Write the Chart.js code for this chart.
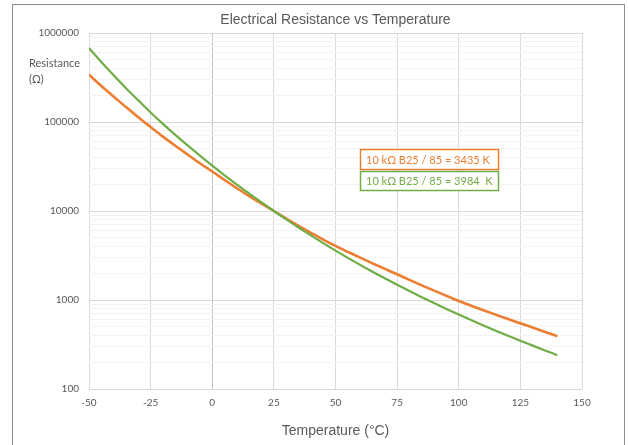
<!DOCTYPE html>
<html><head><meta charset="utf-8">
<script src="https://cdn.jsdelivr.net/npm/chart.js@4"></script>
<style>
html,body{margin:0;padding:0;background:#fff;overflow:hidden}
#wrap{position:relative;width:628px;height:445px}
#frame{position:absolute;left:12px;top:4px;width:611px;height:470px;border:1px solid #8c8c8c;pointer-events:none}
canvas{position:absolute;left:0;top:0}
</style></head><body>
<div id="wrap"><canvas id="c" width="628" height="445"></canvas><div id="frame"></div></div>
<script>
// ---- data ----
const chartTitle = 'Electrical Resistance vs Temperature';
const xTitle = 'Temperature (°C)';
const yTitle = ['Resistance', '(Ω)'];
const seriesLabels = ['10 kΩ B25 / 85 = 3435 K', '10 kΩ B25 / 85 = 3984  K'];
const temperatures = [-50,-45,-40,-35,-30,-25,-20,-15,-10,-5,0,5,10,15,20,25,30,35,40,45,50,55,60,65,70,75,80,85,90,95,100,105,110,115,120,125,130,135,140];
const r3435 = [339000,254000,193000,147000,113000,87900,68500,54100,43100,34400,27800,22300,18000,14700,12100,10000,8220,6820,5690,4770,4050,3480,2990,2580,2240,1945,1683,1462,1274,1112,975,863,767,684,611,547,490,438,391];
const r3984 = [678000,473000,335000,240000,175000,128000,95300,71600,54500,41800,32300,25200,19800,15700,12500,10000,8050,6530,5320,4360,3590,2975,2480,2080,1752,1483,1261,1076,923,794,686,595,518,452,396,348,307,271,240];
const xTicks = [-50,-25,0,25,50,75,100,125,150];
const yMajorTicks = [100,1000,10000,100000,1000000];
const seriesColors = ['#ED7D31', '#70AD47'];

const TEXT = '#595959';

const decor = {
  id: 'decor',
  afterDraw(chart) {
    const ctx = chart.ctx, ca = chart.chartArea;
    ctx.save();
    // title
    ctx.fillStyle = TEXT;
    ctx.font = '14px "Liberation Sans", Arial, sans-serif';
    ctx.textAlign = 'center';
    ctx.textBaseline = 'middle';
    ctx.fillText(chartTitle, (ca.left + ca.right) / 2, 20);
    // y title
    ctx.font = '11px Lato, sans-serif';
    ctx.textAlign = 'left';
    ctx.fillText(yTitle[0], 29, 63);
    ctx.fillText(yTitle[1], 29, 79);
    // series label boxes
    const boxes = [{y:149.5, h:20}, {y:171.5, h:19}];
    ctx.font = '11px Lato, sans-serif';
    chart.data.datasets.forEach((ds, i) => {
      const b = boxes[i];
      ctx.fillStyle = '#fff';
      ctx.fillRect(360.5, b.y, 138, b.h);
      ctx.strokeStyle = ds.borderColor;
      ctx.lineWidth = 1.5;
      ctx.strokeRect(360.5, b.y, 138, b.h);
      ctx.fillStyle = ds.borderColor;
      ctx.textBaseline = 'middle';
      ctx.fillText(ds.label, 366, b.y + b.h / 2 + 0.5);
    });
    ctx.restore();
  }
};

new Chart(document.getElementById('c'), {
  type: 'line',
  data: {
    datasets: [
      { label: seriesLabels[0], data: temperatures.map((t, i) => ({x: t, y: r3435[i]})),
        borderColor: seriesColors[0], backgroundColor: seriesColors[0], borderWidth: 2.6,
        pointRadius: 0, cubicInterpolationMode: 'monotone', order: 1 },
      { label: seriesLabels[1], data: temperatures.map((t, i) => ({x: t, y: r3984[i]})),
        borderColor: seriesColors[1], backgroundColor: seriesColors[1], borderWidth: 2.2,
        pointRadius: 0, cubicInterpolationMode: 'monotone', order: 0 }
    ]
  },
  options: {
    responsive: false,
    animation: false,
    devicePixelRatio: 1,
    layout: { padding: { top: 33, right: 46, left: 0, bottom: 0 } },
    plugins: { legend: { display: false }, tooltip: { enabled: false }, title: { display: false } },
    scales: {
      x: {
        type: 'linear', min: -50, max: 150,
        afterBuildTicks: s => { s.ticks = xTicks.map(v => ({value: v})); },
        afterFit: s => { s.height = 56; },
        ticks: { autoSkip: false, maxRotation: 0, padding: 8, color: TEXT, font: { family: 'Lato', size: 10 } },
        grid: { drawTicks: false, color: c => (c.tick && c.tick.value === 0) ? '#bfbfbf' : '#d9d9d9' },
        border: { display: false },
        title: { display: true, text: xTitle, color: TEXT, font: { family: '"Liberation Sans", Arial', size: 14 }, padding: { top: 0, bottom: 5 } }
      },
      y: {
        type: 'logarithmic', min: 100, max: 1000000,
        afterBuildTicks: s => {
          const t = [];
          for (let e = 0; e < yMajorTicks.length; e++) {
            const base = yMajorTicks[e];
            for (let m = 1; m <= 9; m++) { const v = m * base; if (v <= 1000000) t.push({value: v}); }
          }
          s.ticks = t;
        },
        afterFit: s => { s.width = 89; },
        ticks: { autoSkip: false, padding: 10, color: TEXT, font: { family: 'Lato', size: 10 },
          callback: v => yMajorTicks.includes(v) ? String(v) : '' },
        grid: { drawTicks: false, color: c => (c.tick && yMajorTicks.includes(c.tick.value)) ? '#d9d9d9' : '#f3f3f3' },
        border: { display: false }
      }
    }
  },
  plugins: [decor]
});
</script>
</body></html>
